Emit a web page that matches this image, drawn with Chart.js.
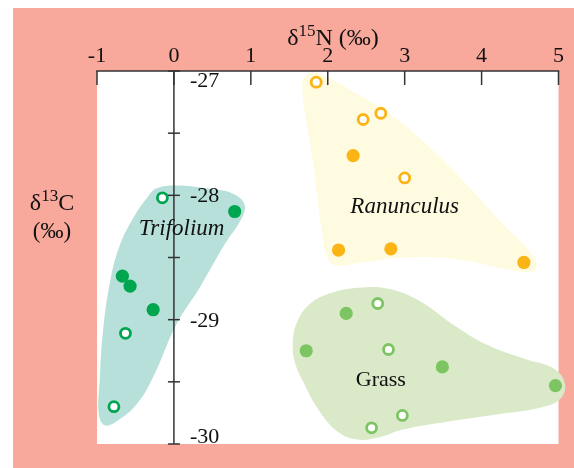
<!DOCTYPE html>
<html>
<head>
<meta charset="utf-8">
<title>δ15N vs δ13C</title>
<script src="https://cdn.jsdelivr.net/npm/chart.js@4.4.1/dist/chart.umd.min.js"></script>
<style>
  html, body { margin: 0; padding: 0; background: #ffffff; }
  canvas { display: block; }
</style>
</head>
<body>
<canvas id="chart" width="574" height="468"></canvas>
<script>
// ---- axis ticks ----
const xTicks = [-1, 0, 1, 2, 3, 4, 5];
const yTicks = [-27, -28, -29, -30];
const yMinorTicks = [-27.5, -28.5, -29.5];

// ---- measurements: [δ15N, δ13C] ----
const trifoliumOpen   = [[-0.15, -28.02], [-0.63, -29.11], [-0.78, -29.70]];
const trifoliumFilled = [[0.79, -28.13], [-0.67, -28.65], [-0.57, -28.73], [-0.27, -28.92]];
const ranunculusOpen   = [[1.85, -27.09], [2.46, -27.39], [2.69, -27.34], [3.00, -27.86]];
const ranunculusFilled = [[2.33, -27.68], [2.14, -28.44], [2.82, -28.43], [4.55, -28.54]];
const grassOpen   = [[2.65, -28.87], [2.79, -29.24], [2.97, -29.77], [2.57, -29.87]];
const grassFilled = [[2.24, -28.95], [1.72, -29.25], [3.49, -29.38], [4.96, -29.53]];

// ---- group envelopes (closed outlines) ----
const trifoliumHull = [
  [-0.225, -27.944], [0.035, -27.920], [0.425, -27.944], [0.762, -27.985], [0.918, -28.073],
  [0.879, -28.186], [0.658, -28.396], [0.334, -28.743], [0.035, -29.034], [-0.277, -29.470],
  [-0.484, -29.680], [-0.744, -29.817], [-0.900, -29.850], [-0.978, -29.752], [-0.965, -29.494],
  [-0.926, -29.115], [-0.835, -28.711], [-0.705, -28.404], [-0.510, -28.162], [-0.355, -28.025]
];
const ranunculusHull = [
  [2.369, -27.180], [2.801, -27.342], [3.321, -27.611], [3.840, -27.934], [4.273, -28.229],
  [4.619, -28.445], [4.714, -28.552], [4.662, -28.612], [4.317, -28.592], [3.668, -28.512],
  [3.018, -28.499], [2.455, -28.539], [2.109, -28.566], [2.000, -28.512], [1.914, -28.257],
  [1.805, -27.718], [1.697, -27.315], [1.668, -27.153], [1.675, -27.073], [1.762, -27.019],
  [1.935, -27.032]
];
const grassHull = [
  [2.455, -28.741], [2.801, -28.754], [3.191, -28.848], [3.623, -29.036], [4.057, -29.198],
  [4.577, -29.319], [4.922, -29.387], [5.074, -29.494], [5.052, -29.615], [4.836, -29.696],
  [4.187, -29.763], [3.451, -29.831], [2.974, -29.884], [2.671, -29.946], [2.411, -29.965],
  [2.152, -29.911], [1.892, -29.736], [1.675, -29.494], [1.568, -29.332], [1.545, -29.198],
  [1.590, -29.036], [1.762, -28.875], [2.065, -28.781]
];

// ---- group names and where they sit ----
const groupNames  = ['Trifolium', 'Ranunculus', 'Grass'];
const groupLabelAt = [[0.10, -28.27], [3.00, -28.09], [2.69, -29.49]];
const groupItalic  = [true, true, false];

// ---- colours ----
const PAGE_BG = '#F8A99B';
const AXIS = '#333333';
const TEXT = '#111111';
const FONT = '"Liberation Serif", "Times New Roman", serif';
const green = '#00A54F', gold = '#FBB416', lightGreen = '#7DC462';
const tealFill = '#B8E0DA', yellowFill = '#FFFBE0', grassFill = '#DAEAC8';

// δ15N axis: ticks run -1..5; the scale itself reaches a little past 5 so
// the Grass envelope can spill over the right edge of the white panel
const X_LAST = 5;
const X_SCALE_MAX = 5.1;

const toXY = arr => arr.map(([x, y]) => ({ x, y }));
// repeat the first points so the smoothed outline closes without a kink
const closedLoop = arr => toXY(arr.concat(arr.slice(0, 3)));

function envelope(pts, color) {
  return {
    data: closedLoop(pts),
    showLine: true,
    fill: 'shape',
    backgroundColor: color,
    borderColor: 'rgba(0,0,0,0)',
    borderWidth: 0,
    tension: 0.4,
    capBezierPoints: false,
    pointRadius: 0,
    order: 10
  };
}
function openMarks(pts, color) {
  return {
    data: toXY(pts),
    pointRadius: 5,
    pointBorderWidth: 2.8,
    pointBackgroundColor: '#ffffff',
    pointBorderColor: color,
    order: 1
  };
}
function filledMarks(pts, color) {
  return {
    data: toXY(pts),
    pointRadius: 6.6,
    pointBorderWidth: 0,
    pointBackgroundColor: color,
    pointBorderColor: color,
    order: 1
  };
}

const decor = {
  id: 'decor',
  beforeDraw(chart) {
    const { ctx, chartArea: a, scales: { x } } = chart;
    const right = x.getPixelForValue(X_LAST);
    ctx.save();
    ctx.fillStyle = PAGE_BG;
    ctx.fillRect(13, 8, chart.width - 13, chart.height - 8);
    ctx.fillStyle = '#ffffff';
    ctx.fillRect(a.left, a.top, right - a.left, a.bottom - a.top);
    ctx.restore();
  },
  afterDatasetsDraw(chart) {
    const { ctx, chartArea: a, scales: { x, y } } = chart;
    ctx.save();
    ctx.strokeStyle = AXIS;
    ctx.lineWidth = 1.5;

    // top δ15N axis line with inward tick marks
    ctx.beginPath();
    ctx.moveTo(x.getPixelForValue(xTicks[0]) - 0.75, a.top);
    ctx.lineTo(x.getPixelForValue(X_LAST) + 0.75, a.top);
    ctx.stroke();
    xTicks.forEach(v => {
      const px = x.getPixelForValue(v);
      ctx.beginPath();
      ctx.moveTo(px, a.top);
      ctx.lineTo(px, a.top + 14);
      ctx.stroke();
    });

    // vertical δ13C axis running through δ15N = 0
    const x0 = x.getPixelForValue(0);
    ctx.beginPath();
    ctx.moveTo(x0, a.top);
    ctx.lineTo(x0, a.bottom);
    ctx.stroke();
    yTicks.concat(yMinorTicks).forEach(v => {
      const py = y.getPixelForValue(v);
      ctx.beginPath();
      ctx.moveTo(x0 - 6, py);
      ctx.lineTo(x0 + 6, py);
      ctx.stroke();
    });

    // δ13C tick labels, kept inside the plot area
    ctx.fillStyle = TEXT;
    ctx.font = '22px ' + FONT;
    ctx.textAlign = 'left';
    ctx.textBaseline = 'alphabetic';
    yTicks.forEach(v => {
      const label = String(v);
      const m = ctx.measureText(label);
      const asc = m.actualBoundingBoxAscent;
      let base = y.getPixelForValue(v) + asc / 2;
      base = Math.max(base, a.top + 2 + asc);
      base = Math.min(base, a.bottom - 1);
      ctx.fillText(label, x0 + 16, base);
    });

    // group names
    ctx.textAlign = 'center';
    ctx.textBaseline = 'middle';
    groupNames.forEach((name, i) => {
      const [gx, gy] = groupLabelAt[i];
      ctx.font = (groupItalic[i] ? 'italic 23px ' : '22px ') + FONT;
      ctx.fillText(name, x.getPixelForValue(gx), y.getPixelForValue(gy));
    });

    // axis titles with superscript isotope numbers
    function isotope(parts, cx, base, size) {
      const sup = Math.round(size * 0.7);
      const widths = parts.map(([t, s]) => {
        ctx.font = (s ? sup : size) + 'px ' + FONT;
        return ctx.measureText(t).width;
      });
      let cur = cx - widths.reduce((p, c) => p + c, 0) / 2;
      ctx.textAlign = 'left';
      ctx.textBaseline = 'alphabetic';
      parts.forEach(([t, s], i) => {
        ctx.font = (s ? sup : size) + 'px ' + FONT;
        ctx.fillText(t, cur, s ? base - size * 0.38 : base);
        cur += widths[i];
      });
    }
    isotope([['δ', false], ['15', true], ['N (‰)', false]], 333, 45, 24);
    isotope([['δ', false], ['13', true], ['C', false]], 52, 210, 24);
    ctx.font = '23px ' + FONT;
    ctx.textAlign = 'center';
    ctx.fillText('(‰)', 52, 238);

    ctx.restore();
  }
};

new Chart(document.getElementById('chart'), {
  type: 'scatter',
  data: {
    datasets: [
      envelope(trifoliumHull, tealFill),
      envelope(ranunculusHull, yellowFill),
      envelope(grassHull, grassFill),
      openMarks(trifoliumOpen, green),
      filledMarks(trifoliumFilled, green),
      openMarks(ranunculusOpen, gold),
      filledMarks(ranunculusFilled, gold),
      openMarks(grassOpen, lightGreen),
      filledMarks(grassFilled, lightGreen)
    ]
  },
  options: {
    responsive: false,
    animation: false,
    events: [],
    // right padding leaves the panel edge (δ15N = 5) at the same place
    layout: { padding: { left: 97, right: 7.3, top: 0, bottom: 24 } },
    plugins: { legend: { display: false }, tooltip: { enabled: false } },
    scales: {
      x: {
        type: 'linear',
        position: 'top',
        min: -1,
        max: X_SCALE_MAX,
        afterBuildTicks: s => { s.ticks = xTicks.map(v => ({ value: v })); },
        afterFit: s => { s.height = 71; },
        ticks: {
          font: { family: FONT, size: 22 },
          color: TEXT,
          padding: 2,
          maxRotation: 0,
          callback: v => String(v)
        },
        grid: { display: false, drawTicks: false },
        border: { display: false }
      },
      y: {
        type: 'linear',
        min: -30,
        max: -27,
        display: false
      }
    }
  },
  plugins: [decor]
});
</script>
</body>
</html>
